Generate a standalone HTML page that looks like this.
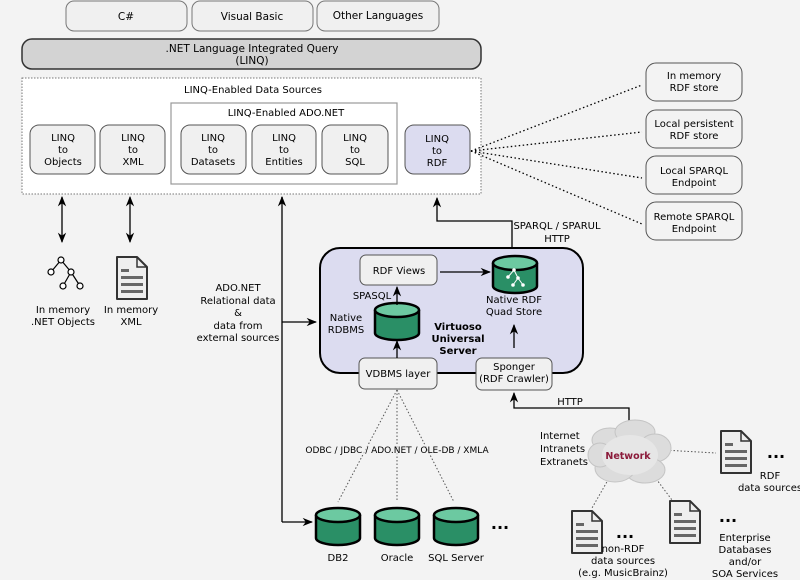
<!DOCTYPE html>
<html><head><meta charset="utf-8"><style>
html,body{margin:0;padding:0;background:#f3f3f3;}
svg{display:block;font-family:"DejaVu Sans","Liberation Sans",sans-serif;font-size:10px;}
</style></head><body>
<svg width="800" height="580" viewBox="0 0 800 580" xmlns="http://www.w3.org/2000/svg">
<defs>
<marker id="ah" viewBox="0 0 10 10" refX="9" refY="5" markerWidth="8" markerHeight="8" orient="auto-start-reverse"><path d="M0,1 L10,5 L0,9 L3,5 z" fill="#000"/></marker>
<g id="cyl">
<path d="M0,7 L0,30 A22,7 0 0 0 44,30 L44,7" fill="#2a8f66" stroke="#000" stroke-width="2.5"/>
<ellipse cx="22" cy="7" rx="22" ry="7" fill="#6cc9a1" stroke="#000" stroke-width="2.5"/>
</g>
<g id="doc">
<path d="M0,0 L20,0 L30,10 L30,42 L0,42 z" fill="#eee" stroke="#333" stroke-width="2" stroke-linejoin="round"/>
<path d="M20,0 L20,10 L30,10" fill="none" stroke="#333" stroke-width="1.5"/>
<rect x="4" y="12" width="8" height="3" fill="#666"/>
<rect x="4" y="19" width="22" height="3" fill="#666"/>
<rect x="4" y="26" width="22" height="3" fill="#666"/>
<rect x="4" y="33" width="22" height="3" fill="#666"/>
</g>
</defs>

<!-- top language boxes -->
<g fill="#f0f0f0" stroke="#777" stroke-width="1">
<rect x="66" y="1" width="121" height="30" rx="8"/>
<rect x="192" y="1" width="121" height="30" rx="8"/>
<rect x="317" y="1" width="122" height="30" rx="8"/>
</g>
<g text-anchor="middle" font-size="10.5">
<text x="126" y="20">C#</text>
<text x="252" y="20">Visual Basic</text>
<text x="378" y="19">Other Languages</text>
</g>

<rect x="22" y="39" width="459" height="30" rx="10" fill="#d3d3d3" stroke="#333" stroke-width="1.5"/>
<text x="252" y="52" text-anchor="middle" font-size="10.5">.NET Language Integrated Query</text>
<text x="252" y="64" text-anchor="middle" font-size="10.5">(LINQ)</text>

<rect x="22" y="78" width="459" height="116" fill="#fff" stroke="#777" stroke-dasharray="1.5,1.5"/>
<text x="253" y="93" text-anchor="middle">LINQ-Enabled Data Sources</text>
<rect x="171" y="103" width="226" height="81" fill="#fff" stroke="#999" stroke-width="1.2"/>
<text x="286" y="116" text-anchor="middle">LINQ-Enabled ADO.NET</text>

<g fill="#f0f0f0" stroke="#555" stroke-width="1">
<rect x="30" y="125" width="65" height="49" rx="9"/>
<rect x="100" y="125" width="65" height="49" rx="9"/>
<rect x="181" y="125" width="65" height="49" rx="9"/>
<rect x="252" y="125" width="64" height="49" rx="9"/>
<rect x="322" y="125" width="66" height="49" rx="9"/>
<rect x="405" y="125" width="65" height="49" rx="9" fill="#dcdcf0"/>
</g>
<g text-anchor="middle">
<text x="63" y="141">LINQ</text><text x="63" y="153">to</text><text x="63" y="165">Objects</text>
<text x="133" y="141">LINQ</text><text x="133" y="153">to</text><text x="133" y="165">XML</text>
<text x="213" y="141">LINQ</text><text x="213" y="153">to</text><text x="213" y="165">Datasets</text>
<text x="284" y="141">LINQ</text><text x="284" y="153">to</text><text x="284" y="165">Entities</text>
<text x="355" y="141">LINQ</text><text x="355" y="153">to</text><text x="355" y="165">SQL</text>
<text x="437" y="142">LINQ</text><text x="437" y="154">to</text><text x="437" y="166">RDF</text>
</g>

<!-- right RDF boxes -->
<g fill="#f3f3f3" stroke="#555" stroke-width="1">
<rect x="646" y="63" width="96" height="38" rx="10"/>
<rect x="646" y="110" width="96" height="38" rx="10"/>
<rect x="646" y="156" width="96" height="38" rx="10"/>
<rect x="646" y="202" width="96" height="38" rx="10"/>
</g>
<g text-anchor="middle">
<text x="694" y="79">In memory</text><text x="694" y="91">RDF store</text>
<text x="694" y="127">Local persistent</text><text x="694" y="139">RDF store</text>
<text x="694" y="174">Local SPARQL</text><text x="694" y="186">Endpoint</text>
<text x="694" y="220">Remote SPARQL</text><text x="694" y="232">Endpoint</text>
</g>
<g stroke="#000" stroke-width="1.3" stroke-dasharray="1.5,2.5" fill="none">
<line x1="471" y1="151" x2="642" y2="85"/>
<line x1="471" y1="151" x2="642" y2="132"/>
<line x1="471" y1="151" x2="642" y2="178"/>
<line x1="471" y1="151" x2="642" y2="224"/>
</g>

<!-- left arrows -->
<g stroke="#000" stroke-width="1.3" fill="none">
<line x1="62" y1="197" x2="62" y2="242" marker-start="url(#ah)" marker-end="url(#ah)"/>
<line x1="130" y1="197" x2="130" y2="242" marker-start="url(#ah)" marker-end="url(#ah)"/>
<line x1="282" y1="197" x2="282" y2="522"/>
<line x1="282" y1="197" x2="282" y2="198" marker-start="url(#ah)"/>
<line x1="282" y1="322" x2="316" y2="322" marker-end="url(#ah)"/>
<line x1="282" y1="522" x2="312" y2="522" marker-end="url(#ah)"/>
<polyline points="512,248 512,221 437,221 437,198" marker-end="url(#ah)"/>
</g>
<text x="557" y="229" text-anchor="middle">SPARQL / SPARUL</text>
<text x="557" y="242" text-anchor="middle">HTTP</text>

<!-- tree icon -->
<g stroke="#000" stroke-width="1.2" fill="#fff">
<line x1="61" y1="260" x2="51" y2="272"/><line x1="61" y1="260" x2="71" y2="272"/>
<line x1="71" y1="272" x2="63" y2="286"/><line x1="71" y1="272" x2="80" y2="286"/>
<circle cx="61" cy="260" r="3"/><circle cx="51" cy="272" r="3"/><circle cx="71" cy="272" r="3"/>
<circle cx="63" cy="286" r="3"/><circle cx="80" cy="286" r="3"/>
</g>
<use href="#doc" x="117" y="257"/>
<g text-anchor="middle">
<text x="63" y="313">In memory</text><text x="63" y="325">.NET Objects</text>
<text x="131" y="313">In memory</text><text x="131" y="325">XML</text>
<text x="238" y="291">ADO.NET</text><text x="238" y="304">Relational data</text>
<text x="238" y="316">&amp;</text><text x="238" y="329">data from</text><text x="238" y="341">external sources</text>
</g>

<!-- Virtuoso -->
<rect x="320" y="248" width="263" height="125" rx="20" fill="#dcdcf0" stroke="#000" stroke-width="2"/>
<rect x="360" y="255" width="77" height="30" rx="6" fill="#f0f0f0" stroke="#555"/>
<text x="399" y="274" text-anchor="middle">RDF Views</text>
<line x1="440" y1="272" x2="490" y2="272" stroke="#000" stroke-width="1.3" marker-end="url(#ah)"/>
<use href="#cyl" x="493" y="256"/>
<g stroke="#fff" stroke-width="1" fill="#fff">
<line x1="514" y1="270" x2="508" y2="277"/><line x1="514" y1="270" x2="518" y2="278"/>
<line x1="518" y1="278" x2="513" y2="285"/><line x1="518" y1="278" x2="523" y2="285"/>
<circle cx="514" cy="270" r="1.3"/><circle cx="508" cy="277" r="1.3"/><circle cx="518" cy="278" r="1.3"/><circle cx="513" cy="285" r="1.3"/><circle cx="523" cy="285" r="1.3"/>
</g>
<text x="514" y="303" text-anchor="middle">Native RDF</text>
<text x="514" y="315" text-anchor="middle">Quad Store</text>
<use href="#cyl" x="375" y="303"/>
<text x="372" y="299" text-anchor="middle">SPASQL</text>
<line x1="397" y1="305" x2="397" y2="287" stroke="#000" stroke-width="1.3" marker-end="url(#ah)"/>
<text x="346" y="321" text-anchor="middle">Native</text>
<text x="346" y="333" text-anchor="middle">RDBMS</text>
<g text-anchor="middle" font-weight="bold">
<text x="458" y="330">Virtuoso</text><text x="458" y="342">Universal</text><text x="458" y="354">Server</text>
</g>
<rect x="359" y="358" width="78" height="31" rx="6" fill="#f0f0f0" stroke="#555"/>
<text x="398" y="377" text-anchor="middle">VDBMS layer</text>
<line x1="397" y1="358" x2="397" y2="341" stroke="#000" stroke-width="1.3" marker-end="url(#ah)"/>
<rect x="476" y="358" width="76" height="32" rx="6" fill="#f0f0f0" stroke="#555"/>
<text x="514" y="370" text-anchor="middle">Sponger</text>
<text x="514" y="382" text-anchor="middle">(RDF Crawler)</text>
<line x1="514" y1="348" x2="514" y2="325" stroke="#000" stroke-width="1.3" marker-end="url(#ah)"/>
<polyline points="629,425 629,408 514,408 514,393" fill="none" stroke="#000" stroke-width="1.3" marker-end="url(#ah)"/>
<text x="570" y="405" text-anchor="middle">HTTP</text>

<!-- DB connections -->
<g stroke="#555" stroke-width="1" stroke-dasharray="1.5,2" fill="none">
<line x1="397" y1="390" x2="338" y2="502"/>
<line x1="397" y1="390" x2="397" y2="502"/>
<line x1="397" y1="390" x2="454" y2="502"/>
<line x1="663" y1="450" x2="716" y2="453"/>
<line x1="612" y1="473" x2="592" y2="508"/>
<line x1="654" y1="476" x2="672" y2="500"/>
</g>
<rect x="314" y="444" width="168" height="11" fill="#f3f3f3" opacity="0.6"/>
<text x="397" y="453" text-anchor="middle" font-size="9">ODBC / JDBC / ADO.NET / OLE-DB / XMLA</text>
<use href="#cyl" x="316" y="508"/>
<use href="#cyl" x="375" y="508"/>
<use href="#cyl" x="434" y="508"/>
<g text-anchor="middle">
<text x="338" y="561">DB2</text><text x="397" y="561">Oracle</text><text x="456" y="561">SQL Server</text>
</g>
<text x="500" y="529" text-anchor="middle" font-size="16" font-weight="bold">...</text>

<!-- network -->
<g fill="#dcdcdc" stroke="#c4c4c4" stroke-width="1">
<ellipse cx="610" cy="440" rx="18" ry="12"/><ellipse cx="635" cy="432" rx="20" ry="12"/>
<ellipse cx="655" cy="448" rx="16" ry="14"/><ellipse cx="645" cy="470" rx="20" ry="13"/>
<ellipse cx="615" cy="468" rx="20" ry="14"/><ellipse cx="600" cy="455" rx="12" ry="12"/>
<ellipse cx="630" cy="455" rx="28" ry="20" fill="#e6e6e6" stroke="none"/>
</g>
<text x="628" y="459" text-anchor="middle" fill="#8b1a3a" font-weight="bold" font-size="9.5">Network</text>
<text x="540" y="439">Internet</text><text x="540" y="452">Intranets</text><text x="540" y="465">Extranets</text>
<use href="#doc" x="721" y="431"/>
<use href="#doc" x="572" y="511"/>
<use href="#doc" x="670" y="501"/>
<g font-size="16" font-weight="bold" text-anchor="middle">
<text x="776" y="458">...</text><text x="625" y="538">...</text><text x="728" y="522">...</text>
</g>
<g text-anchor="middle">
<text x="770" y="479">RDF</text><text x="770" y="491">data sources</text>
<text x="623" y="552">non-RDF</text><text x="623" y="564">data sources</text><text x="623" y="576">(e.g. MusicBrainz)</text>
<text x="745" y="541">Enterprise</text><text x="745" y="553">Databases</text><text x="745" y="565">and/or</text><text x="745" y="577">SOA Services</text>
</g>
</svg>
</body></html>
